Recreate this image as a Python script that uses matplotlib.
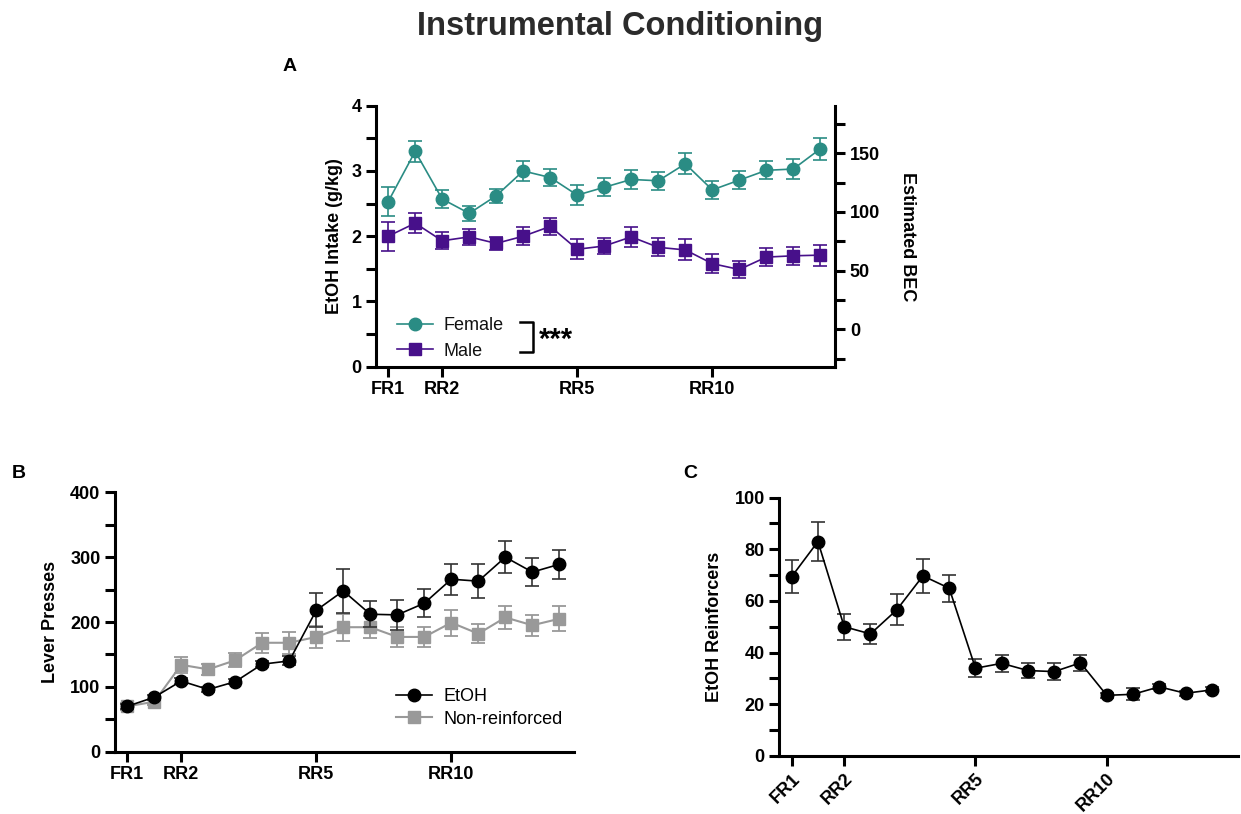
import matplotlib.pyplot as plt
from matplotlib.lines import Line2D
import numpy as np

plt.rcParams['font.family'] = ['Liberation Sans', 'DejaVu Sans']

# data
session_ticks = [0, 2, 7, 12]
session_labels = ["FR1", "RR2", "RR5", "RR10"]

female_mean = [2.53, 3.30, 2.57, 2.35, 2.62, 3.00, 2.90, 2.63, 2.75, 2.87, 2.85, 3.11, 2.71, 2.86, 3.01, 3.03, 3.34]
female_sem = [0.22, 0.16, 0.14, 0.11, 0.11, 0.15, 0.13, 0.15, 0.14, 0.15, 0.14, 0.16, 0.14, 0.14, 0.14, 0.15, 0.17]
male_mean = [2.00, 2.20, 1.93, 1.99, 1.89, 2.00, 2.15, 1.80, 1.85, 1.99, 1.83, 1.79, 1.58, 1.49, 1.68, 1.70, 1.71]
male_sem = [0.22, 0.15, 0.13, 0.12, 0.10, 0.14, 0.13, 0.15, 0.13, 0.15, 0.14, 0.16, 0.14, 0.13, 0.14, 0.14, 0.16]

etoh_press = [70, 84, 109, 96, 108, 135, 140, 218, 248, 212, 211, 229, 266, 263, 300, 277, 289]
etoh_press_sem = [4, 4, 5, 4, 4, 5, 7, 26, 34, 20, 23, 22, 24, 26, 25, 21, 22]
nonrf_press = [70, 77, 134, 127, 141, 168, 168, 177, 192, 192, 177, 177, 199, 182, 207, 195, 205]
nonrf_press_sem = [5, 5, 12, 9, 11, 15, 17, 17, 21, 17, 15, 15, 20, 15, 18, 16, 19]

reinforcers = [69.4, 83.0, 50.0, 47.2, 56.5, 69.7, 64.9, 33.9, 35.8, 33.0, 32.6, 36.0, 23.4, 23.8, 26.7, 24.2, 25.5]
reinforcers_sem = [6.5, 7.7, 5.0, 3.9, 6.0, 6.5, 5.2, 3.5, 3.2, 2.8, 3.2, 3.0, 1.0, 2.3, 1.0, 1.0, 1.0]

teal = '#2a8c84'
purple = '#47108a'
gray = '#999999'
txt = '#111111'
FS = 13

fig = plt.figure(figsize=(12.41, 8.14), dpi=100)


def style_axis(ax, ylim, major, minor):
    for s in ['top', 'right']:
        ax.spines[s].set_visible(False)
    for s in ['left', 'bottom']:
        ax.spines[s].set_linewidth(2.2)
    ax.set_ylim(*ylim)
    ax.set_yticks(major)
    ax.set_yticks(minor, minor=True)
    ax.tick_params(axis='both', which='both', direction='out', length=7, width=2.2)
    ax.set_xticks(session_ticks)
    for lab in ax.get_yticklabels():
        lab.set_fontweight('bold')
        lab.set_fontsize(FS)


# panel A
x = np.arange(len(female_mean))
axA = fig.add_axes([0.303, 0.5495, 0.370, 0.3206])
style_axis(axA, (0, 4), [0, 1, 2, 3, 4], [0.5, 1.5, 2.5, 3.5])
axA.set_xlim(-0.45, 16.55)
axA.set_xticklabels(session_labels, fontweight='bold', fontsize=FS)
axA.errorbar(x, female_mean, yerr=female_sem, color=teal, marker='o', markersize=9,
             linewidth=1.2, capsize=5, elinewidth=1.2, capthick=1.2)
axA.errorbar(x, male_mean, yerr=male_sem, color=purple, marker='s', markersize=8.5,
             linewidth=1.2, capsize=5, elinewidth=1.2, capthick=1.2)
axA.set_ylabel('EtOH Intake (g/kg)', fontweight='bold', fontsize=FS, labelpad=6)

axA2 = axA.twinx()
for s in ['top', 'left', 'bottom']:
    axA2.spines[s].set_visible(False)
axA2.spines['right'].set_linewidth(2.2)
axA2.set_ylim(-31.9, 190.5)
axA2.set_yticks([0, 50, 100, 150])
axA2.set_yticks([-25, 25, 75, 125, 175], minor=True)
axA2.tick_params(axis='y', which='both', direction='out', length=7, width=2.2)
for lab in axA2.get_yticklabels():
    lab.set_fontweight('bold')
    lab.set_fontsize(FS)
axA2.set_ylabel('Estimated BEC', fontweight='bold', fontsize=FS, rotation=270, labelpad=26)

hA = [Line2D([], [], color=teal, marker='o', markersize=9, lw=1.2),
      Line2D([], [], color=purple, marker='s', markersize=8.5, lw=1.2)]
legA = axA.legend(hA, ['Female', 'Male'], loc='lower left', bbox_to_anchor=(0.01, -0.035),
                  frameon=False, fontsize=FS, handlelength=2, handletextpad=0.6, labelspacing=0.45)
for t in legA.get_texts():
    t.set_color(txt)
axA.plot([0.314, 0.342, 0.342, 0.314], [0.171, 0.171, 0.056, 0.056], color='black', lw=1.8,
         transform=axA.transAxes, clip_on=False)
axA.text(0.354, 0.104, '***', transform=axA.transAxes, fontsize=21, fontweight='bold', va='center')

# panel B
axB = fig.add_axes([0.0927, 0.0765, 0.370, 0.3187])
style_axis(axB, (0, 400), [0, 100, 200, 300, 400], [50, 150, 250, 350])
axB.set_xlim(-0.45, 16.55)
axB.set_xticklabels(session_labels, fontweight='bold', fontsize=FS)
axB.errorbar(x, nonrf_press, yerr=nonrf_press_sem, color=gray, marker='s', markersize=9,
             linewidth=1.5, capsize=5, elinewidth=1.3, capthick=1.3, zorder=2)
axB.errorbar(x, etoh_press, yerr=etoh_press_sem, color='black', ecolor='#333333', marker='o',
             markersize=9, linewidth=1.2, capsize=5, elinewidth=1.2, capthick=1.2, zorder=3)
axB.set_ylabel('Lever Presses', fontweight='bold', fontsize=FS, labelpad=8)
hB = [Line2D([], [], color='black', marker='o', markersize=9, lw=1.2),
      Line2D([], [], color=gray, marker='s', markersize=9, lw=1.5)]
axB.legend(hB, ['EtOH', 'Non-reinforced'], loc='lower right', bbox_to_anchor=(1.01, 0.03),
           frameon=False, fontsize=FS, handlelength=2, handletextpad=0.6, labelspacing=0.3)

# panel C
axC = fig.add_axes([0.628, 0.0716, 0.3696, 0.317])
style_axis(axC, (0, 100), [0, 20, 40, 60, 80, 100], [10, 30, 50, 70, 90])
axC.set_xlim(-0.47, 17.0)
axC.set_xticklabels(session_labels, fontweight='bold', fontsize=FS, rotation=45, ha='right',
                    rotation_mode='anchor')
axC.errorbar(x, reinforcers, yerr=reinforcers_sem, color='black', ecolor='#333333', marker='o',
             markersize=9, linewidth=1.2, capsize=5, elinewidth=1.2, capthick=1.2)
axC.set_ylabel('EtOH Reinforcers', fontweight='bold', fontsize=FS, labelpad=8)

# titles and panel letters
fig.text(0.5, 0.967, 'Instrumental Conditioning', ha='center', va='center', fontsize=23.5,
         fontweight='bold', color='#2b2b2b')
fig.text(0.233, 0.918, 'A', fontsize=14, fontweight='bold', ha='center', va='center')
fig.text(0.015, 0.418, 'B', fontsize=14, fontweight='bold', ha='center', va='center')
fig.text(0.556, 0.418, 'C', fontsize=14, fontweight='bold', ha='center', va='center')

fig.savefig('out.png', dpi=100)
